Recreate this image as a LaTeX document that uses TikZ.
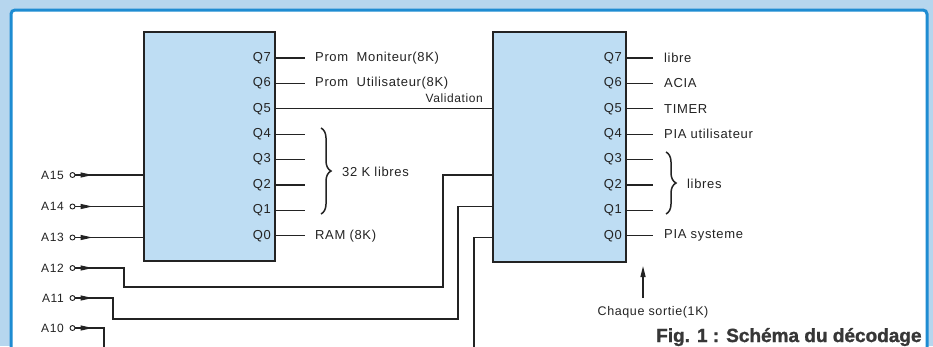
\documentclass[tikz,border=0pt]{standalone}
\usepackage{fontspec}
\setmainfont{Liberation Sans}
\newfontfamily\iso[LetterSpace=5]{Liberation Sans}
\newfontfamily\capfont[BoldFeatures={FakeBold=1.3}]{Liberation Sans}
\usetikzlibrary{decorations.pathreplacing,arrows.meta}
\definecolor{bgblue}{RGB}{182,214,238}
\definecolor{boxblue}{RGB}{190,221,243}
\definecolor{frameblue}{RGB}{30,140,210}
\definecolor{ink}{RGB}{35,35,35}
\definecolor{figgray}{RGB}{55,55,55}
\tikzset{
  chip/.style={draw=ink, fill=boxblue, line width=1.4pt, inner sep=0pt},
  wire/.style={draw=ink, line width=1.3pt},
  qlab/.style={font=\iso\fontsize{13}{13}\selectfont, text=ink, inner sep=0pt, anchor=east},
  olab/.style={font=\iso\fontsize{13}{13}\selectfont, text=ink, inner sep=0pt, anchor=west},
  rlab/.style={font=\iso\fontsize{13}{13}\selectfont, text=ink, inner sep=0pt, anchor=west},
  alab/.style={font=\iso\fontsize{12}{12}\selectfont, text=ink, inner sep=0pt, anchor=east},
  pin/.style={circle, draw=ink, line width=0.9pt, fill=white, inner sep=0pt, minimum size=5pt},
  pintip/.style={draw=ink, fill=ink, line width=1.3pt, -{Triangle[length=12pt,width=5pt]}},
  bracebox/.style={draw=ink, line width=1.5pt, decorate, decoration={brace, amplitude=10pt}},
  figcap/.style={font=\capfont\bfseries\fontsize{19}{20}\selectfont, text=figgray, inner sep=0pt, anchor=base west}
}
\begin{document}
\begin{tikzpicture}[x=1pt,y=-1pt]
\useasboundingbox (0,0) rectangle (933,346);
\fill[bgblue] (0,0) rectangle (933,346);
\filldraw[fill=white, draw=frameblue, line width=3pt, rounded corners=4pt] (11,10) rectangle (927,380);
\clip (0,0) rectangle (933,346);

% chips
\node[chip, minimum width=131pt, minimum height=229pt] (B1) at (209.5,146.5) {};
\node[chip, minimum width=133pt, minimum height=230pt] (B2) at (559.5,147) {};

% Q labels inside boxes
\foreach \k/\y in {7/58,6/83.4,5/108.8,4/134.2,3/159.6,2/185,1/210.4,0/235.8}{
  \node[qlab] (P\k) at (271,\y) {Q\k};
  \node[qlab] (R\k) at (622,\y) {Q\k};
}

% box 1 outputs
\node[olab] (L7) at (315,58) {Prom\ \ Moniteur(8K)};
\node[olab] (L6) at (315,83.4) {Prom\ \ Utilisateur(8K)};
\node[olab] (L0) at (315,235.8) {RAM (8K)};
\foreach \k in {7,6,0}{ \draw[wire] (B1.east |- P\k) -- ([xshift=-10pt]L\k.west); }
\foreach \k in {4,3,2,1}{
  \coordinate (E\k) at (305,0 |- P\k);
  \draw[wire] (B1.east |- P\k) -- (E\k);
}
\draw[bracebox] (321,128) -- (321,214);
\node[olab] (lib1) at (342,172) {32 K libres};

% validation
\draw[wire] (B1.east |- P5) -- (B2.west |- P5);
\node[font=\iso\fontsize{12}{12}\selectfont, text=ink, inner sep=0pt, anchor=south east] (val) at (483,103) {Validation};

% box 2 outputs
\node[rlab] (M7) at (664,58) {libre};
\node[rlab] (M6) at (664,83.4) {ACIA};
\node[rlab] (M5) at (664,108.8) {TIMER};
\node[rlab] (M4) at (664,134.2) {PIA utilisateur};
\node[rlab] (M0) at (664,235.8) {PIA systeme};
\foreach \k in {7,6,5,4,0}{ \draw[wire] (B2.east |- R\k) -- ([xshift=-11pt]M\k.west); }
\foreach \k in {3,2,1}{
  \coordinate (F\k) at (653,0 |- R\k);
  \draw[wire] (B2.east |- R\k) -- (F\k);
}
\draw[bracebox] (666,152) -- (666,214);
\node[rlab] (lib2) at (687,184) {libres};

% inputs
\foreach \n/\y in {15/175,14/206.5,13/237.5,12/268,11/298,10/328}{
  \node[pin] (c\n) at (72.5,\y) {};
  \node[alab] (a\n) at (64,\y) {A\n};
  \draw[pintip] (c\n) -- ++(20,0);
}
\draw[wire] (c15) -- (B1.west |- c15);
\draw[wire] (c14) -- (B1.west |- c14);
\draw[wire] (c13) -- (B1.west |- c13);
\draw[wire] (c12) -- (124,268) -- (124,287) -- (443,287) -- (443,175) -- (B2.west |- c15);
\draw[wire] (c11) -- (113,298) -- (113,319) -- (458,319) -- (458,206.5) -- (B2.west |- c14);
\draw[wire] (c10) -- (104,328) -- (104,360) -- (474,360) -- (474,237.5) -- (B2.west |- c13);

% chaque sortie
\node[font=\iso\fontsize{12.5}{12.5}\selectfont, text=ink, inner sep=0pt] (ch) at (653,312) {Chaque sortie(1K)};
\coordinate (chtip) at (643,266);
\coordinate (chtail) at (643,298);
\draw[wire, fill=ink, -{Triangle[length=11pt,width=5pt]}] (chtail) -- (chtip);

% caption
\node[figcap] (cap) at (656,342) {Fig. 1 : Schéma du décodage};
\end{tikzpicture}
\end{document}
